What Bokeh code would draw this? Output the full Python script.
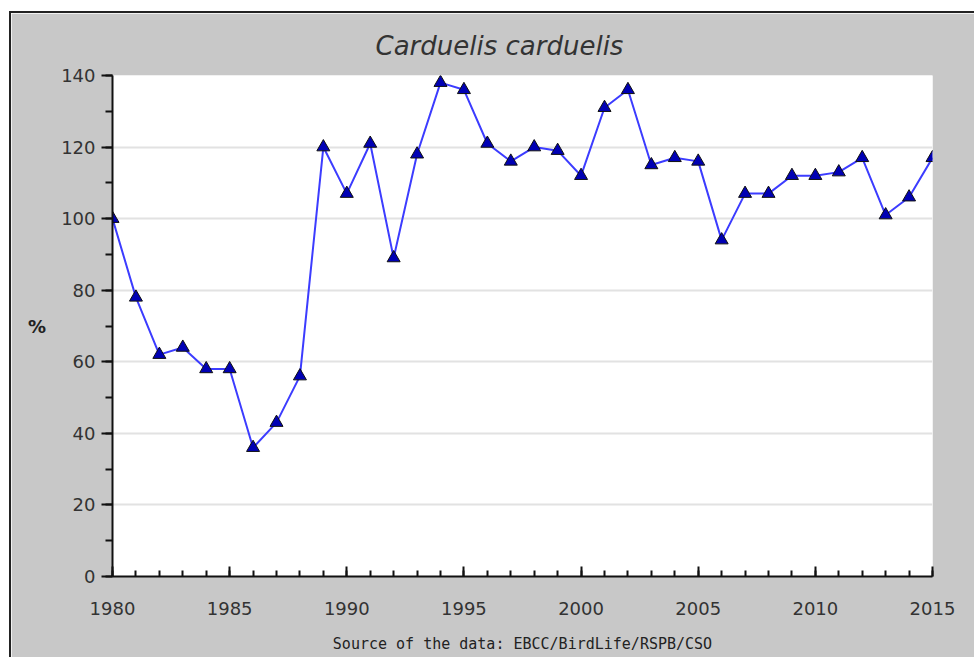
from bokeh.plotting import figure
from bokeh.embed import file_html
from bokeh.resources import INLINE
from bokeh.models import FixedTicker, Range1d

years = list(range(1980, 2016))
values = [100, 78, 62, 64, 58, 58, 36, 43, 56, 120, 107, 121, 89, 118, 138, 136,
          121, 116, 120, 119, 112, 131, 136, 115, 117, 116, 94, 107, 107, 112, 112,
          113, 117, 101, 106, 117]
x_major = [1980, 1985, 1990, 1995, 2000, 2005, 2010, 2015]
y_major = [0, 20, 40, 60, 80, 100, 120, 140]
title_text = "Carduelis carduelis"
y_label = "%"
source_text = "Source of the data: EBCC/BirdLife/RSPB/CSO"

GRAY = "#c8c8c8"

p = figure(width=965, height=646, output_backend="svg", toolbar_location=None,
           x_range=Range1d(1980, 2015), y_range=Range1d(0, 140),
           min_border_left=101, min_border_right=44, min_border_top=62,
           min_border_bottom=83, title=title_text)
p.margin = (11, 0, 0, 9)
p.styles = {"border-left": "2px solid #222222", "border-top": "2px solid #222222"}
p.border_fill_color = GRAY
p.background_fill_color = "white"
p.outline_line_color = None

p.title.align = "left"
p.title.offset = 263
p.title.text_font = "DejaVu Sans"
p.title.text_font_style = "italic"
p.title.text_font_size = "26px"
p.title.text_color = "#333333"
p.title.standoff = 29

# grid
p.xgrid.grid_line_color = None
p.ygrid.grid_line_color = "#e2e2e2"
p.ygrid.grid_line_width = 2
p.ygrid.ticker = FixedTicker(ticks=y_major)

# x axis
p.xaxis.ticker = FixedTicker(ticks=x_major, minor_ticks=years)
p.xaxis.major_tick_in = 10
p.xaxis.major_tick_out = 0
p.xaxis.minor_tick_in = 6
p.xaxis.minor_tick_out = 0
p.xaxis.major_label_standoff = 25
p.xaxis.axis_label = source_text
p.xaxis.axis_label_text_font = "DejaVu Sans Mono"
p.xaxis.axis_label_text_font_size = "15px"
p.xaxis.axis_label_text_font_style = "normal"
p.xaxis.axis_label_text_color = "#222222"
p.xaxis.axis_label_standoff = 17

# y axis
p.yaxis.ticker = FixedTicker(ticks=y_major, minor_ticks=list(range(0, 141, 10)))
p.yaxis.major_tick_in = 0
p.yaxis.major_tick_out = 11
p.yaxis.minor_tick_in = 0
p.yaxis.minor_tick_out = 7
p.yaxis.major_label_standoff = 6
p.yaxis.axis_label = y_label
p.yaxis.axis_label_orientation = "horizontal"
p.yaxis.axis_label_text_font = "DejaVu Sans"
p.yaxis.axis_label_text_font_size = "18px"
p.yaxis.axis_label_text_font_style = "bold"
p.yaxis.axis_label_text_color = "#222222"
p.yaxis.axis_label_standoff = 12

for ax in (p.xaxis, p.yaxis):
    ax.axis_line_color = "#111111"
    ax.axis_line_width = 2
    ax.major_tick_line_color = "#111111"
    ax.major_tick_line_width = 2
    ax.minor_tick_line_color = "#111111"
    ax.minor_tick_line_width = 2
    ax.major_label_text_font = "DejaVu Sans"
    ax.major_label_text_font_size = "18px"
    ax.major_label_text_color = "#333333"

p.line(years, values, line_color="#3c3cff", line_width=2)
p.scatter(years, values, marker="triangle", size=13, fill_color="#0000b4",
          line_color="#101010", line_width=1)

open("out.html", "w").write(file_html(p, INLINE))
